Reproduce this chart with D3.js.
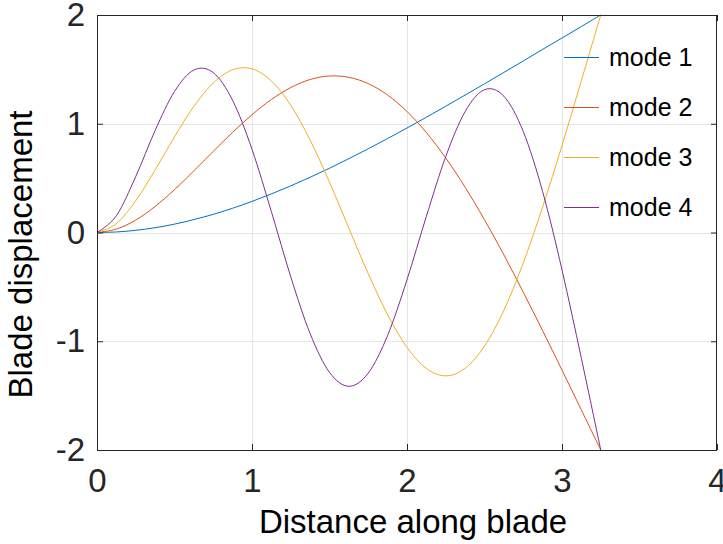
<!DOCTYPE html>
<html>
<head>
<meta charset="utf-8">
<script src="https://cdn.jsdelivr.net/npm/d3@7.9.0/dist/d3.min.js"></script>
<style>
  body { margin: 0; background: #fff; }
  svg { display: block; font-family: "Liberation Sans", Arial, sans-serif; }
</style>
</head>
<body>
<div id="chart"></div>
<script>
// distance along the blade (sample positions)
const distance = [0, 0.125, 0.25, 0.375, 0.5, 0.625, 0.75, 0.875, 1, 1.125, 1.25, 1.375, 1.5,
  1.625, 1.75, 1.875, 2, 2.125, 2.25, 2.375, 2.5, 2.625, 2.75, 2.875, 3, 3.125, 3.25];

const mode1 = [0, 0.005, 0.020, 0.044, 0.077, 0.119, 0.167, 0.223, 0.286, 0.355, 0.429, 0.508, 0.591,
  0.679, 0.770, 0.864, 0.961, 1.060, 1.161, 1.264, 1.367, 1.472, 1.577, 1.684, 1.788, 1.894, 2.0];
const mode2 = [0, 0.031, 0.114, 0.240, 0.394, 0.567, 0.746, 0.921, 1.083, 1.223, 1.333, 1.407, 1.439,
  1.427, 1.369, 1.264, 1.113, 0.919, 0.685, 0.416, 0.117, -0.206, -0.549, -0.903, -1.265, -1.632, -2.0];
const mode3 = [0, 0.082, 0.292, 0.575, 0.880, 1.160, 1.375, 1.496, 1.505, 1.393, 1.170, 0.850, 0.462,
  0.039, -0.379, -0.756, -1.056, -1.250, -1.318, -1.249, -1.044, -0.715, -0.280, 0.235, 0.800, 1.397, 2.0];
const mode4 = [0, 0.154, 0.515, 0.938, 1.297, 1.494, 1.470, 1.215, 0.765, 0.192, -0.407, -0.930, -1.286,
  -1.414, -1.293, -0.946, -0.434, 0.149, 0.698, 1.112, 1.313, 1.253, 0.929, 0.376, -0.344, -1.157, -2.0];

const seriesNames = ['mode 1', 'mode 2', 'mode 3', 'mode 4'];
const seriesColors = ['#0072bd', '#d95319', '#edb120', '#7e2f8e'];
const xTicks = [0, 1, 2, 3, 4];
const yTicks = [-2, -1, 0, 1, 2];

const series = [mode1, mode2, mode3, mode4].map((vals, i) => ({
  name: seriesNames[i],
  color: seriesColors[i],
  points: vals.map((v, j) => ({ x: distance[j], y: v })),
}));

const width = 723;
const height = 544;
const margin = { top: 15, right: 6, bottom: 94, left: 97 };
const usable = {
  left: margin.left,
  right: width - margin.right,
  top: margin.top,
  bottom: height - margin.bottom,
};

const svg = d3.select('#chart')
  .append('svg')
  .attr('width', width)
  .attr('height', height);

const xScale = d3.scaleLinear().domain([0, 4]).range([usable.left, usable.right]);
const yScale = d3.scaleLinear().domain([-2, 2]).range([usable.bottom, usable.top]);

// gridlines
const grid = svg.append('g').attr('stroke', '#e6e6e6').attr('stroke-width', 1);
grid.selectAll('line.gx')
  .data(xTicks.slice(1, -1))
  .join('line')
  .attr('class', 'gx')
  .attr('x1', d => Math.round(xScale(d)) + 0.5)
  .attr('x2', d => Math.round(xScale(d)) + 0.5)
  .attr('y1', usable.top)
  .attr('y2', usable.bottom);
grid.selectAll('line.gy')
  .data(yTicks.slice(1, -1))
  .join('line')
  .attr('class', 'gy')
  .attr('y1', d => Math.round(yScale(d)) + 0.5)
  .attr('y2', d => Math.round(yScale(d)) + 0.5)
  .attr('x1', usable.left)
  .attr('x2', usable.right);

// curves
svg.append('clipPath').attr('id', 'clip')
  .append('rect')
  .attr('x', usable.left)
  .attr('y', usable.top - 1)
  .attr('width', usable.right - usable.left)
  .attr('height', usable.bottom - usable.top + 2);

// uniform catmull-rom: keeps x linear between samples so the curves stay smooth
const line = d3.line()
  .x(d => xScale(d.x))
  .y(d => yScale(d.y))
  .curve(d3.curveCardinal.tension(0));

svg.append('g')
  .attr('clip-path', 'url(#clip)')
  .selectAll('path')
  .data(series)
  .join('path')
  .attr('fill', 'none')
  .attr('stroke', d => d.color)
  .attr('stroke-width', 1)
  .attr('d', d => line(d.points));

// axes (ticks inward, box on)
const tickLen = 6;
const axisColor = '#262626';
const styleAxis = g => {
  g.select('.domain').remove();
  g.selectAll('.tick line').attr('stroke', axisColor);
  g.selectAll('.tick text')
    .attr('fill', axisColor)
    .attr('font-size', 33)
    .attr('font-family', '"Liberation Sans", Arial, sans-serif');
};

svg.append('g')
  .attr('transform', `translate(0,${usable.bottom})`)
  .call(d3.axisBottom(xScale).tickValues(xTicks).tickSizeInner(-tickLen).tickPadding(19)
    .tickFormat(d => String(d)))
  .call(styleAxis);
svg.append('g')
  .attr('transform', `translate(${usable.left},0)`)
  .call(d3.axisLeft(yScale).tickValues(yTicks).tickSizeInner(-tickLen).tickPadding(12)
    .tickFormat(d => String(d)))
  .call(styleAxis);
svg.append('g')
  .attr('transform', `translate(0,${usable.top})`)
  .call(d3.axisTop(xScale).tickValues(xTicks).tickSizeInner(-tickLen).tickFormat(''))
  .call(styleAxis);
svg.append('g')
  .attr('transform', `translate(${usable.right},0)`)
  .call(d3.axisRight(yScale).tickValues(yTicks).tickSizeInner(-tickLen).tickFormat(''))
  .call(styleAxis);

svg.append('rect')
  .attr('x', usable.left + 0.5)
  .attr('y', usable.top + 0.5)
  .attr('width', usable.right - usable.left - 1)
  .attr('height', usable.bottom - usable.top)
  .attr('fill', 'none')
  .attr('stroke', axisColor)
  .attr('stroke-width', 1);

// axis labels
svg.append('text')
  .attr('x', 413)
  .attr('y', 533)
  .attr('text-anchor', 'middle')
  .attr('font-size', 33)
  .attr('fill', '#000')
  .text('Distance along blade');

svg.append('text')
  .attr('transform', `translate(32,${(usable.top + usable.bottom) / 2 + 22}) rotate(-90)`)
  .attr('text-anchor', 'middle')
  .attr('font-size', 33)
  .attr('fill', '#000')
  .text('Blade displacement');

// legend (no box)
const legend = svg.append('g').attr('transform', 'translate(564,57)');
const items = legend.selectAll('g')
  .data(series)
  .join('g')
  .attr('transform', (d, i) => `translate(0,${i * 50})`);
items.append('line')
  .attr('x1', 0).attr('x2', 35)
  .attr('y1', 0.5).attr('y2', 0.5)
  .attr('stroke', d => d.color)
  .attr('stroke-width', 1);
items.append('text')
  .attr('x', 45)
  .attr('y', 9)
  .attr('font-size', 25)
  .attr('fill', '#000')
  .text(d => d.name);
</script>
</body>
</html>
